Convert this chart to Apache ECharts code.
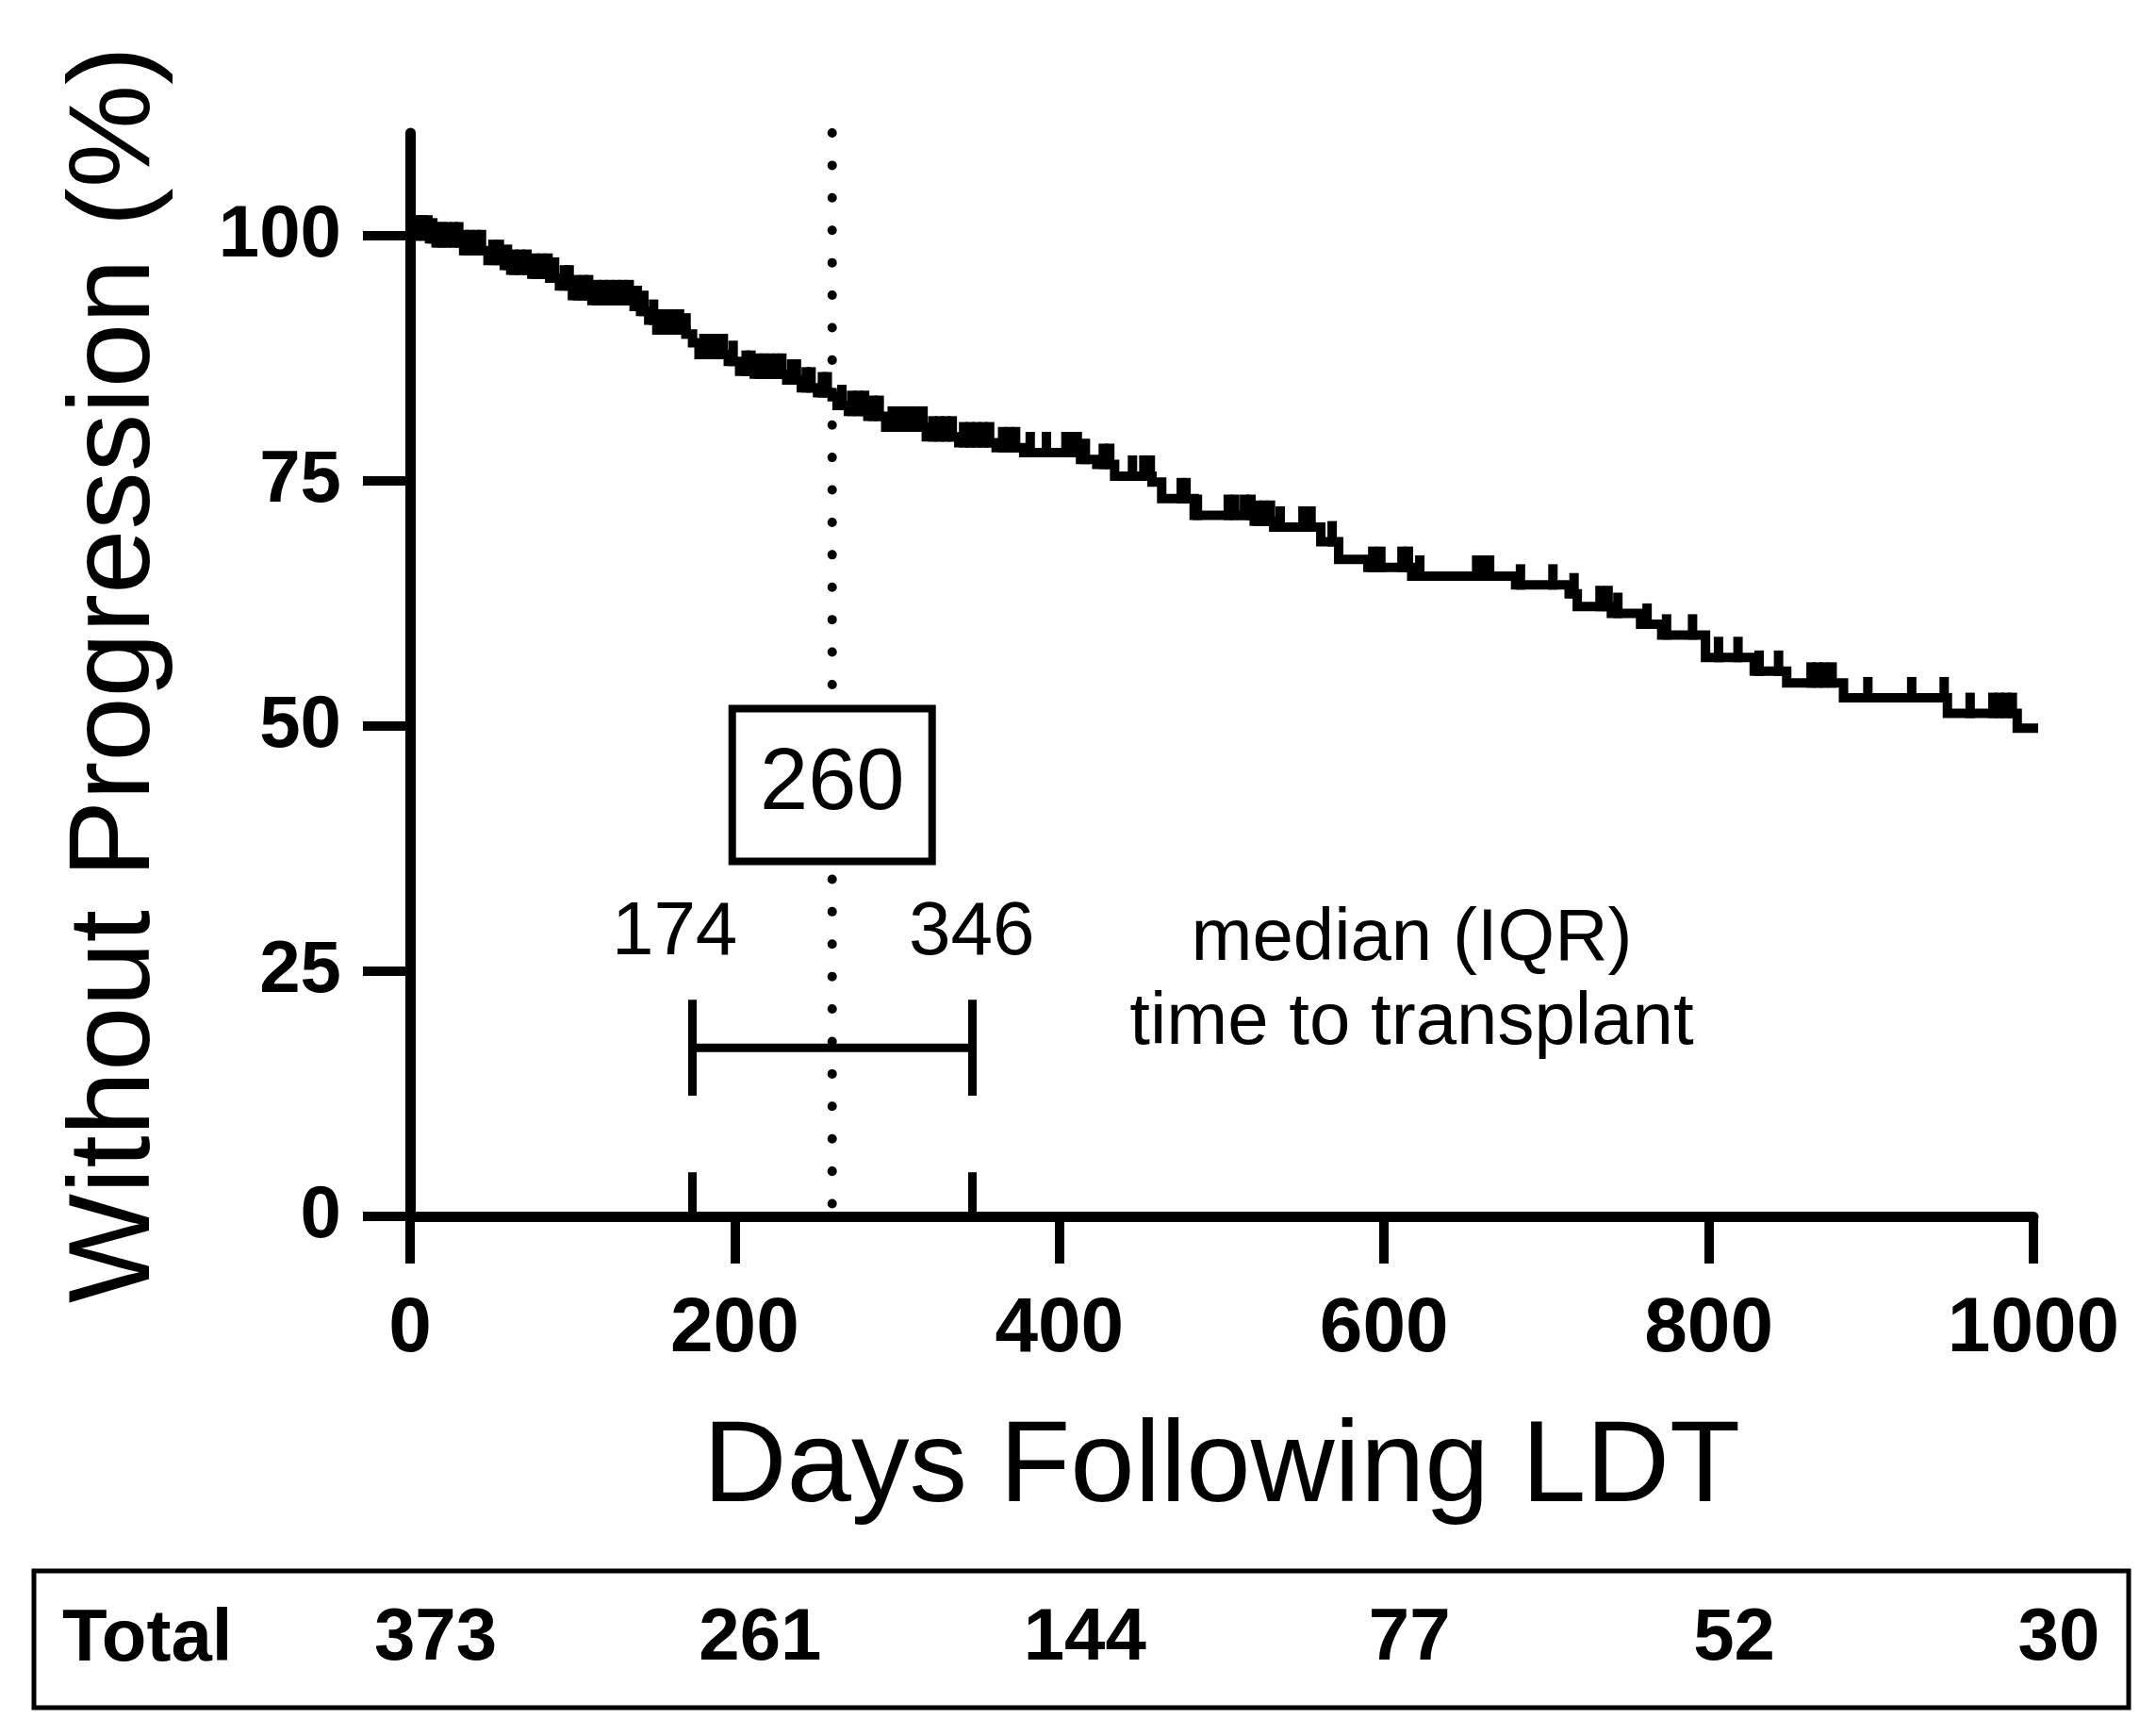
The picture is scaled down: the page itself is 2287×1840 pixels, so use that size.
<!DOCTYPE html>
<html>
<head>
<meta charset="utf-8">
<script src="https://cdn.jsdelivr.net/npm/echarts@6.0.0/dist/echarts.min.js"></script>
<style>html,body{margin:0;padding:0;background:#fff;}#chart{width:2287px;height:1840px;}</style>
</head>
<body>
<div id="chart"></div>
<script>
// ---- data ----
const kmDays =     [0, 12, 16, 33, 48, 58, 62, 75, 86, 92, 100, 112, 138, 142, 147, 152, 170, 174, 178, 196, 203, 212, 232, 241, 251, 260, 263, 270, 282, 293, 318, 338, 361, 378, 413, 423, 434, 457, 463, 483, 520, 532, 561, 572, 590, 617, 681, 714, 719, 740, 758, 771, 798, 828, 848, 883, 947, 990, 1000];
const kmSurvival = [100, 99.7, 99.3, 98.5, 97.5, 97.0, 96.5, 96.1, 95.7, 94.9, 93.9, 93.4, 92.8, 92.3, 91.4, 90.4, 90.0, 89.1, 87.9, 87.2, 86.2, 85.9, 85.3, 84.5, 84.0, 83.6, 82.7, 82.1, 81.6, 80.5, 79.5, 78.9, 78.4, 77.9, 77.2, 76.7, 75.5, 74.9, 73.2, 71.5, 70.9, 70.3, 68.8, 67.0, 66.2, 65.3, 64.4, 63.5, 62.2, 61.5, 60.4, 59.3, 57.0, 55.6, 54.4, 52.9, 51.3, 49.8, 49.8];
const censorDays = [2, 5, 8, 11, 14, 17, 20, 23, 27, 30, 34, 37, 41, 44, 51, 55, 60, 64, 68, 72, 77, 81, 85, 89, 95, 98, 103, 107, 110, 115, 119, 123, 127, 131, 135, 140, 144, 150, 155, 158, 162, 166, 170, 181, 185, 189, 193, 199, 207, 210, 215, 218, 222, 226, 229, 235, 238, 244, 247, 254, 257, 266, 272, 276,
  280, 285, 289, 297, 300, 304, 308, 312, 316, 322, 326, 330, 334, 341, 345, 349, 353, 357, 365, 369, 373,
  382, 392, 404, 408, 411, 416, 427, 431,
  445, 452, 456, 475, 478, 485, 504, 508, 514, 518, 522, 526, 530, 536, 550, 555,
  568, 593, 598, 611, 615, 622, 657, 661, 665, 684, 704, 717, 733, 738, 744, 762, 774, 790,
  806, 818, 831, 843, 863, 867, 871, 876, 898, 925, 945, 961, 975, 979, 983, 987];
const xTicks = [0, 200, 400, 600, 800, 1000];
const yTicks = [0, 25, 50, 75, 100];
const atRiskDays = [0, 200, 400, 600, 800, 1000];
const atRiskTotal = [373, 261, 144, 77, 52, 30];
const medianDays = 260;
const iqrDays = [174, 346];
const medianBoxAt = [260, 44];
const iqrLabelY = 28.9;
const iqrBarY = 17.2;
const iqrCap = [12.3, 22.1];
const axisTickUp = 4.5;
const noteAt = [617, 23.9];
const yMax = 110.5;

const FF = '"Liberation Sans", Arial, Helvetica, sans-serif';

function survivalAt(t) {
  let v = kmSurvival[0];
  for (let i = 0; i < kmDays.length; i++) { if (kmDays[i] <= t) v = kmSurvival[i]; }
  return v;
}

const chart = echarts.init(document.getElementById('chart'));
const option = {
  animation: false,
  backgroundColor: '#ffffff',
  grid: [
    { left: 435, right: 130, top: 141, bottom: 550, outerBoundsMode: 'none' },
    { left: 435, right: 130, top: 1666, height: 145, outerBoundsMode: 'none' }
  ],
  xAxis: [
    {
      type: 'value', gridIndex: 0, min: 0, max: 1000, interval: 200,
      name: 'Days Following LDT', nameLocation: 'middle', nameGap: 207,
      nameTextStyle: { fontSize: 123, fontFamily: FF, color: '#000' },
      axisLine: { show: true, onZero: false, lineStyle: { color: '#000', width: 11 } },
      axisTick: { show: true, length: 50, lineStyle: { color: '#000', width: 10 } },
      axisLabel: { margin: 79, fontSize: 82, fontWeight: 'bold', fontFamily: FF, color: '#000',
                   customValues: xTicks, formatter: v => String(v) },
      splitLine: { show: false }
    },
    { type: 'value', gridIndex: 1, min: 0, max: 1000, show: false }
  ],
  yAxis: [
    {
      type: 'value', gridIndex: 0, min: 0, max: yMax,
      name: 'Without Progression (%)', nameLocation: 'middle', nameGap: 249,
      nameTextStyle: { fontSize: 123, fontFamily: FF, color: '#000' },
      axisLine: { show: true, onZero: false, lineStyle: { color: '#000', width: 11 } },
      axisTick: { show: true, length: 50, customValues: yTicks, lineStyle: { color: '#000', width: 10 } },
      axisLabel: { margin: 73, fontSize: 78, fontWeight: 'bold', fontFamily: FF, color: '#000',
                   customValues: yTicks, formatter: v => String(v) },
      splitLine: { show: false }
    },
    { type: 'value', gridIndex: 1, min: 0, max: 1, show: false }
  ],
  graphic: [
    { type: 'rect', shape: { x: 36, y: 1666, width: 2222, height: 145 },
      style: { fill: 'none', stroke: '#000', lineWidth: 5 } },
    { type: 'text', x: 66, y: 1739,
      style: { text: 'Total', font: 'bold 78px ' + FF, fill: '#000', verticalAlign: 'middle' } }
  ],
  series: [
    {
      name: 'KM', type: 'line', step: 'end', xAxisIndex: 0, yAxisIndex: 0,
      data: kmDays.map((d, i) => [d, kmSurvival[i]]),
      showSymbol: false, symbol: 'none', z: 3,
      lineStyle: { color: '#000', width: 10, join: 'miter', cap: 'square' }
    },
    {
      name: 'censored', type: 'scatter', xAxisIndex: 0, yAxisIndex: 0,
      data: censorDays.map(d => [d, survivalAt(d)]),
      symbol: 'rect', symbolSize: [10, 27], symbolOffset: [0, -8.5], z: 4,
      itemStyle: { color: '#000', opacity: 1 }
    },
    {
      name: 'median', type: 'line', xAxisIndex: 0, yAxisIndex: 0,
      data: [[medianDays, yMax], [medianDays, 0]],
      showSymbol: false, symbol: 'none', z: 2,
      lineStyle: { color: '#000', width: 10, type: [0.01, 34.4], cap: 'round' }
    },
    {
      name: 'IQR', type: 'line', xAxisIndex: 0, yAxisIndex: 0,
      data: [[iqrDays[0], iqrBarY], [iqrDays[1], iqrBarY]],
      showSymbol: false, symbol: 'none', z: 3,
      lineStyle: { color: '#000', width: 9 },
      markLine: {
        silent: true, symbol: ['none', 'none'], label: { show: false },
        lineStyle: { color: '#000', width: 9, type: 'solid', opacity: 1 },
        data: [
          [{ coord: [iqrDays[0], iqrCap[0]] }, { coord: [iqrDays[0], iqrCap[1]] }],
          [{ coord: [iqrDays[1], iqrCap[0]] }, { coord: [iqrDays[1], iqrCap[1]] }],
          [{ coord: [iqrDays[0], 0] }, { coord: [iqrDays[0], axisTickUp] }],
          [{ coord: [iqrDays[1], 0] }, { coord: [iqrDays[1], axisTickUp] }]
        ]
      }
    },
    {
      name: 'annotations', type: 'scatter', xAxisIndex: 0, yAxisIndex: 0,
      symbolSize: 0, z: 5, silent: true,
      itemStyle: { opacity: 1, color: '#000' },
      data: [
        { value: medianBoxAt, label: { formatter: String(medianDays), fontSize: 92,
            backgroundColor: '#fff', borderColor: '#000', borderWidth: 8,
            width: 204, height: 154, lineHeight: 154, align: 'center', verticalAlign: 'middle' } },
        { value: [iqrDays[0], iqrLabelY], label: { formatter: String(iqrDays[0]), offset: [-19, 0] } },
        { value: [iqrDays[1], iqrLabelY], label: { formatter: String(iqrDays[1]) } },
        { value: noteAt, label: { formatter: 'median (IQR)\ntime to transplant', fontSize: 78, lineHeight: 89 } }
      ],
      label: { show: true, position: 'inside', color: '#000', opacity: 1, fontFamily: FF, fontSize: 80, align: 'center' }
    },
    {
      name: 'atRisk', type: 'scatter', xAxisIndex: 1, yAxisIndex: 1, symbolSize: 0, silent: true,
      itemStyle: { opacity: 1, color: '#000' },
      data: atRiskDays.map((d, i) => [d, 0.5, atRiskTotal[i]]),
      label: { show: true, position: 'inside', offset: [27, 0], formatter: p => String(p.value[2]),
               color: '#000', opacity: 1, fontFamily: FF, fontSize: 78, fontWeight: 'bold' }
    }
  ]
};
chart.setOption(option);
</script>
</body>
</html>
